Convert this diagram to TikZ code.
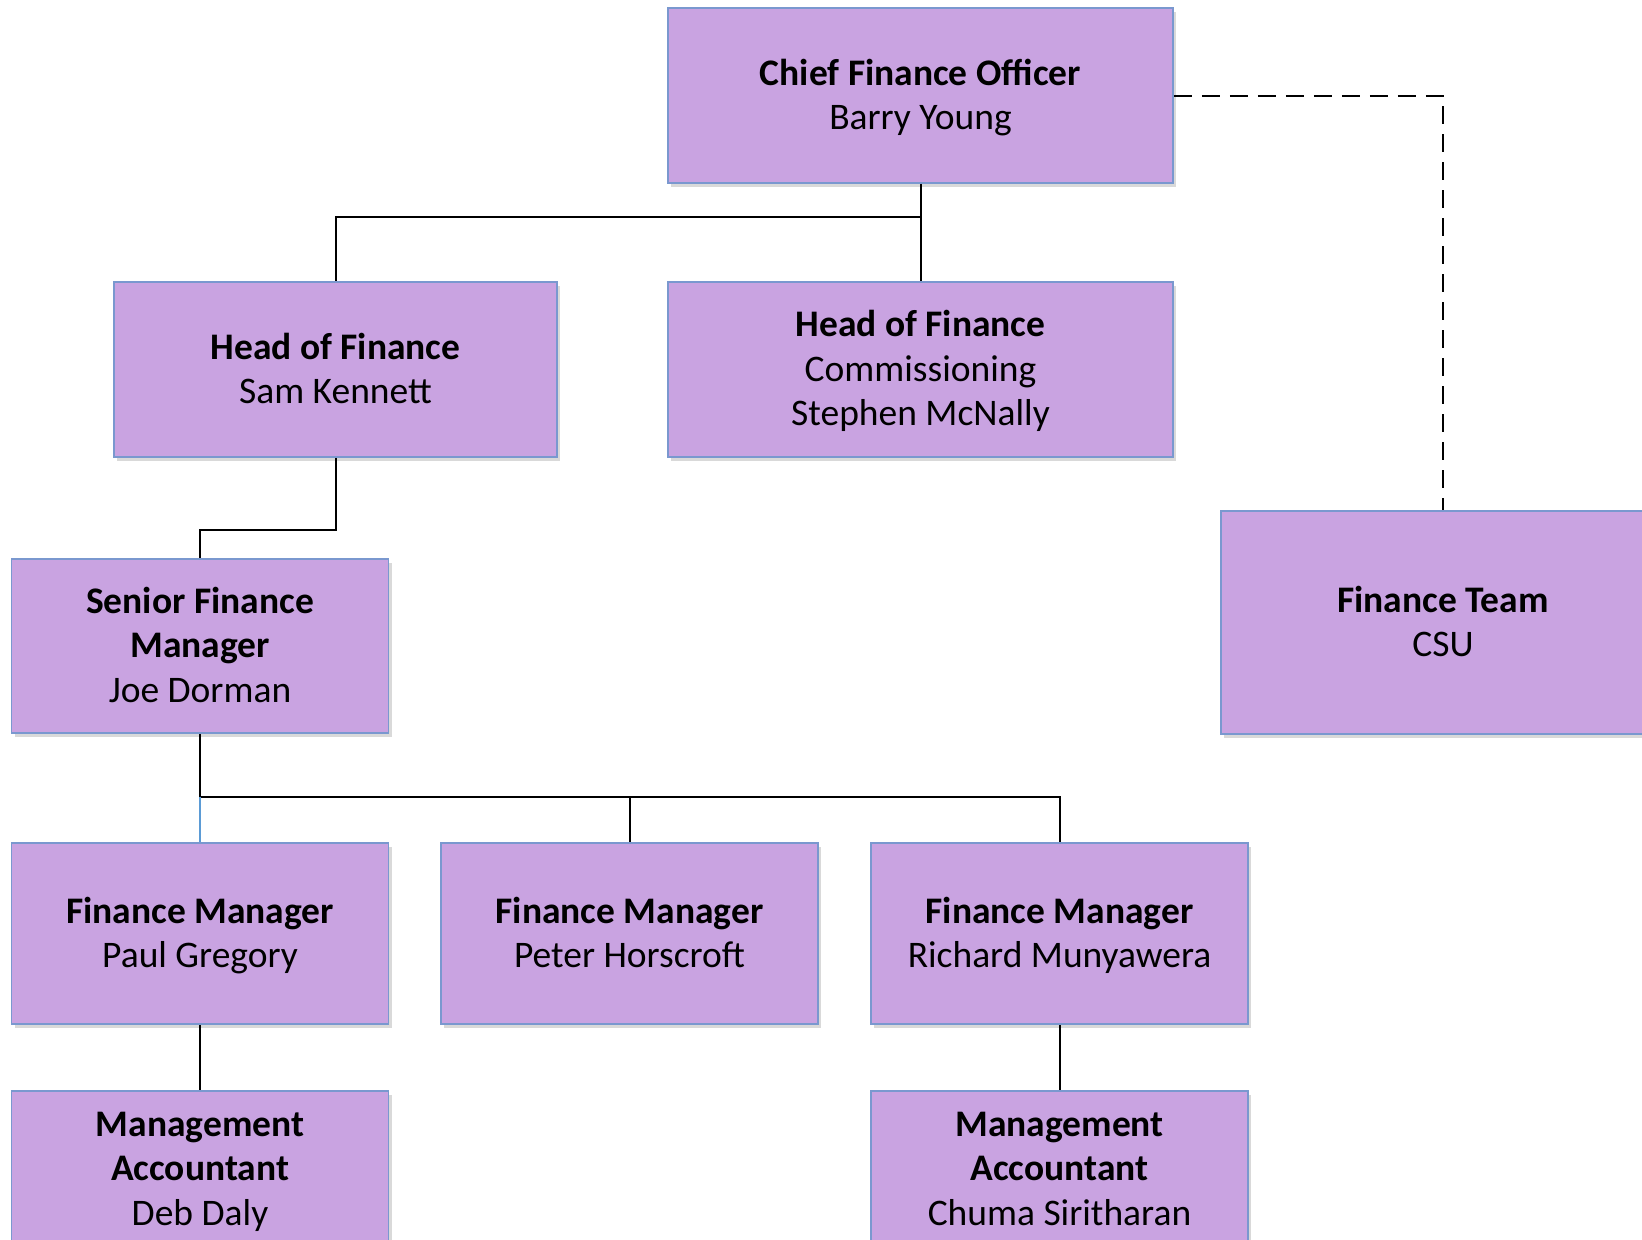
\documentclass[tikz,border=0pt]{standalone}
\usepackage{fontspec}
\setmainfont{Carlito}
\usetikzlibrary{shadows}
\definecolor{boxfill}{HTML}{C9A3E1}
\definecolor{boxline}{HTML}{7A98CF}
\definecolor{linkblue}{HTML}{5B9BD5}
\newcommand{\topstrut}{\rule{0pt}{31pt}}
\newcommand{\botstrut}{\rule[-7.5pt]{0pt}{7.5pt}}
\tikzset{
  orgbox/.style={draw=boxline, line width=1.6pt, fill=boxfill, align=center, inner sep=0pt,
    drop shadow={shadow xshift=3pt, shadow yshift=-4pt, opacity=0.25, fill=black!60},
    font=\fontsize{37.5}{44.5}\selectfont},
  link/.style={line width=2pt, black},
  dashlink/.style={line width=2pt, black, dash pattern=on 18pt off 10pt}
}
\begin{document}
\begin{tikzpicture}[x=1pt,y=-1pt]
\useasboundingbox (0,0) rectangle (1642,1240);
\node[orgbox, minimum width=505, minimum height=175] (cfo) at (920.5,95.5) {\topstrut\textbf{Chief Finance Officer}\\Barry Young\botstrut};
\node[orgbox, minimum width=443, minimum height=175] (hofs) at (335.5,369.5) {\topstrut\textbf{Head of Finance}\\Sam Kennett\botstrut};
\node[orgbox, minimum width=505, minimum height=175] (hofc) at (920.5,369.5) {\topstrut\textbf{Head of Finance}\\Commissioning\\Stephen McNally\botstrut};
\node[orgbox, minimum width=444, minimum height=223] (team) at (1443,622.5) {\topstrut\textbf{Finance Team}\\CSU\botstrut};
\node[orgbox, minimum width=377, minimum height=174] (sfm) at (200,646) {\topstrut\textbf{Senior Finance}\\\textbf{Manager}\\Joe Dorman\botstrut};
\node[orgbox, minimum width=377, minimum height=181] (fm1) at (200,933.5) {\topstrut\textbf{Finance Manager}\\Paul Gregory\botstrut};
\node[orgbox, minimum width=377, minimum height=181] (fm2) at (629.5,933.5) {\topstrut\textbf{Finance Manager}\\Peter Horscroft\botstrut};
\node[orgbox, minimum width=377, minimum height=181] (fm3) at (1059.5,933.5) {\topstrut\textbf{Finance Manager}\\Richard Munyawera\botstrut};
\node[orgbox, minimum width=377, minimum height=156] (ma1) at (200,1169) {\topstrut\textbf{Management}\\\textbf{Accountant}\\Deb Daly\botstrut};
\node[orgbox, minimum width=377, minimum height=156] (ma2) at (1059.5,1169) {\topstrut\textbf{Management}\\\textbf{Accountant}\\Chuma Siritharan\botstrut};
\coordinate (j1) at (920.5,217);
\coordinate (j2) at (200,797);
\draw[link] (cfo.south) -- (j1) -| (hofs.north);
\draw[link] (j1) -- (hofc.north);
\draw[link] (hofs.south) -- ++(0,72) -| (sfm.north);
\draw[link] (sfm.south) -- (j2) -| (fm3.north);
\draw[link] (j2) -| (fm2.north);
\draw[linkblue, line width=1.4pt] (j2) -- (fm1.north);
\draw[link] (fm1.south) -- (ma1.north);
\draw[link] (fm3.south) -- (ma2.north);
\draw[dashlink] (cfo.east) -| (team.north);
\end{tikzpicture}
\end{document}
